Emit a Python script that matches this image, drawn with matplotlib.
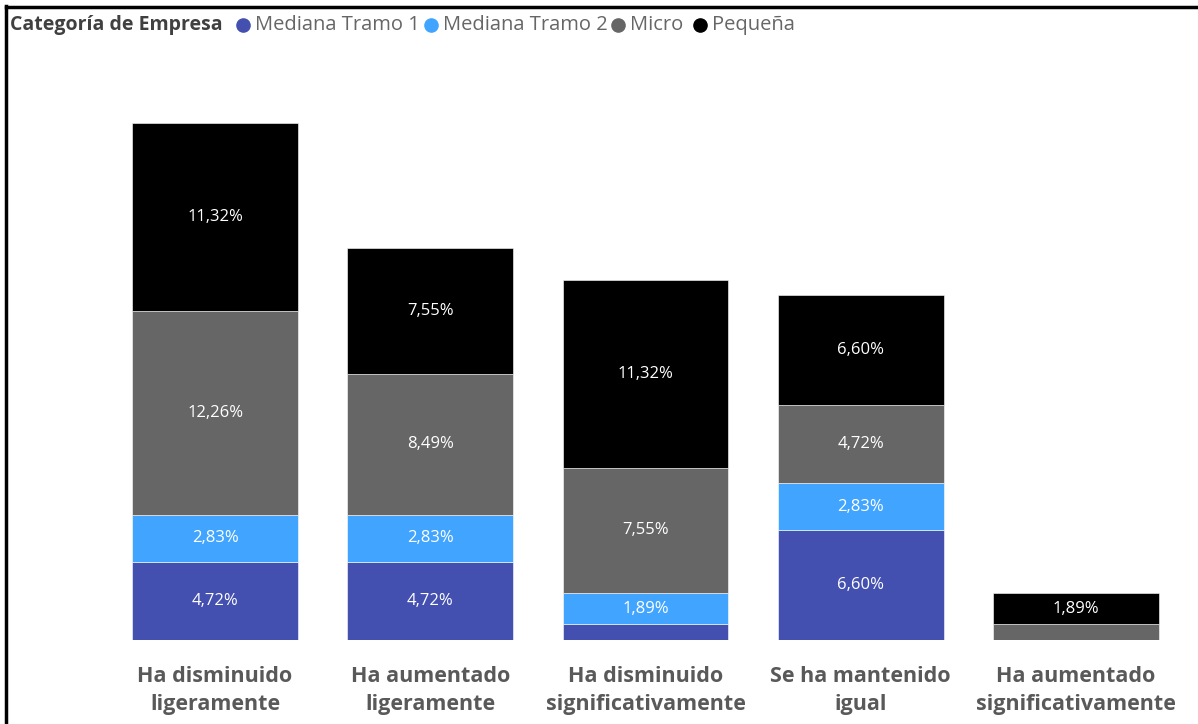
import numpy as np
import matplotlib.pyplot as plt
from matplotlib.lines import Line2D

plt.rcParams['font.family'] = ['Open Sans', 'DejaVu Sans']

# Data (percent of companies)
categories = ['Ha disminuido\nligeramente', 'Ha aumentado\nligeramente',
              'Ha disminuido\nsignificativamente', 'Se ha mantenido\nigual',
              'Ha aumentado\nsignificativamente']
series_names = ['Mediana Tramo 1', 'Mediana Tramo 2', 'Micro', 'Pequeña']
tramo1 = [4.72, 4.72, 0.94, 6.60, 0.0]
tramo2 = [2.83, 2.83, 1.89, 2.83, 0.0]
micro = [12.26, 8.49, 7.55, 4.72, 0.94]
pequena = [11.32, 7.55, 11.32, 6.60, 1.89]
colors = ['#4350AF', '#41A5FF', '#666666', '#000000']

W, H = 1198, 724
fig = plt.figure(figsize=(W / 100, H / 100), dpi=100)
ax = fig.add_axes([107.5 / W, 84 / H, 1076 / W, 581.3 / H])

x = np.arange(len(categories))
bottom = np.zeros(len(categories))
for name, vals, col in zip(series_names, [tramo1, tramo2, micro, pequena], colors):
    vals = np.array(vals)
    ax.bar(x, vals, width=0.77, bottom=bottom, color=col, label=name,
           edgecolor='white', linewidth=0.4)
    for xi, b, v in zip(x, bottom, vals):
        if v >= 1.5:
            ax.text(xi, b + v / 2, f'{v:.2f}%'.replace('.', ','), ha='center',
                    va='center', color='white', fontsize=12)
    bottom += vals

ax.set_xlim(-0.5, 4.5)
ax.set_ylim(0, 35)
ax.set_yticks([])
ax.set_xticks(x)
ax.set_xticklabels(categories, fontsize=15.5, fontweight='bold', color='#595959',
                   linespacing=1.42)
ax.tick_params(axis='x', length=0, pad=19)
for s in ax.spines.values():
    s.set_visible(False)

# legend drawn by hand along the top (positions)
ly = 1 - 25 / H
fig.text(10 / W, ly, 'Categoría de Empresa', fontsize=14, fontweight='bold',
         color='#404040', va='center', ha='left')
marker_x = [243, 431, 618, 700]
for mx, name, col in zip(marker_x, series_names, colors):
    fig.add_artist(Line2D([mx / W], [ly], marker='o', markersize=9.5,
                          color=col, transform=fig.transFigure))
    fig.text((mx + 12) / W, ly, name, fontsize=14.5, color='#666666',
             va='center', ha='left')

# frame lines (left and top)
fig.add_artist(Line2D([6 / W, 6 / W], [0, 1 - 6 / H], color='black',
                      linewidth=2.5, transform=fig.transFigure))
fig.add_artist(Line2D([6 / W, 1], [1 - 7 / H, 1 - 7 / H], color='black',
                      linewidth=2.5, transform=fig.transFigure))

fig.savefig('out.png', dpi=100)
